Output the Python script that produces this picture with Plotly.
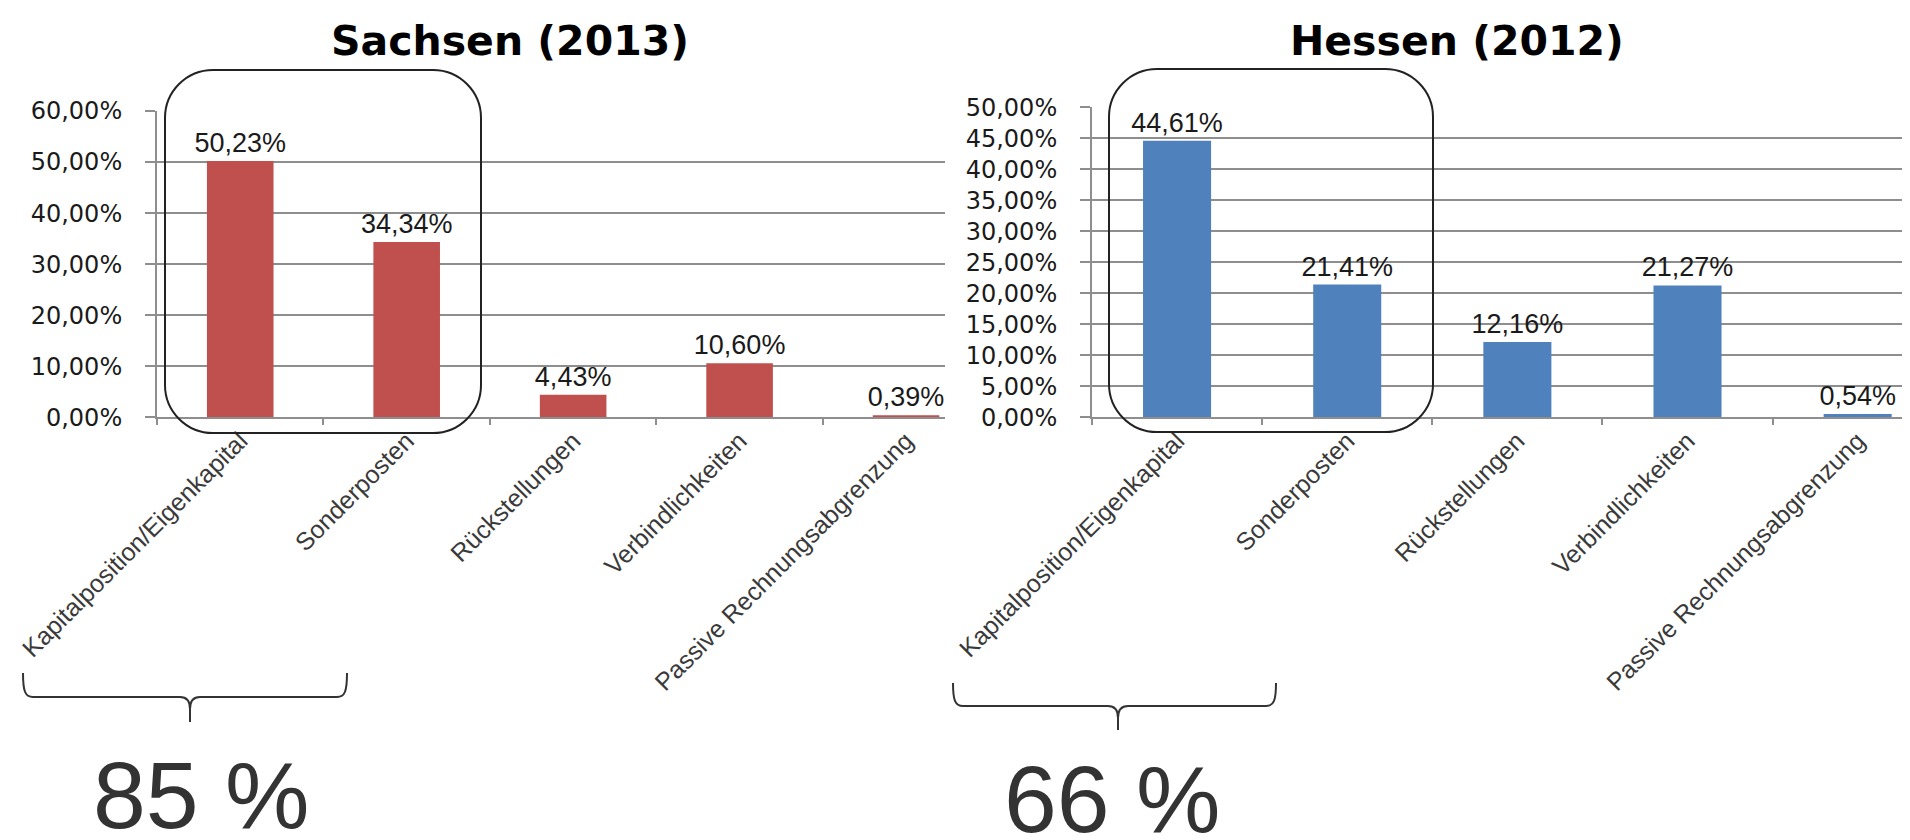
import plotly.graph_objects as go

# ---------------- data ----------------
categories = ["Kapitalposition/Eigenkapital", "Sonderposten", "Rückstellungen",
              "Verbindlichkeiten", "Passive Rechnungsabgrenzung"]
sachsen_values = [50.23, 34.34, 4.43, 10.60, 0.39]
hessen_values = [44.61, 21.41, 12.16, 21.27, 0.54]
titles = ["Sachsen (2013)", "Hessen (2012)"]
share_labels = ["85 %", "66 %"]

# ---------------- geometry helpers ----------------
# the page body has an 8px margin, so the figure is shifted by OFF px
OFF = 8
W, H = 1910 - OFF, 840 - OFF


def px(x):
    return (x - OFF) / W


def py(y):
    return 1 - (y - OFF) / H


def rounded_rect(x0, y0, x1, y1, r):
    k = 0.552 * r
    pts = [
        f"M {px(x0 + r)},{py(y0)}",
        f"L {px(x1 - r)},{py(y0)}",
        f"C {px(x1 - r + k)},{py(y0)} {px(x1)},{py(y0 + r - k)} {px(x1)},{py(y0 + r)}",
        f"L {px(x1)},{py(y1 - r)}",
        f"C {px(x1)},{py(y1 - r + k)} {px(x1 - r + k)},{py(y1)} {px(x1 - r)},{py(y1)}",
        f"L {px(x0 + r)},{py(y1)}",
        f"C {px(x0 + r - k)},{py(y1)} {px(x0)},{py(y1 - r + k)} {px(x0)},{py(y1 - r)}",
        f"L {px(x0)},{py(y0 + r)}",
        f"C {px(x0)},{py(y0 + r - k)} {px(x0 + r - k)},{py(y0)} {px(x0 + r)},{py(y0)}",
        "Z",
    ]
    return " ".join(pts)


def brace(x0, x1, ytop, yh, xm, ytip):
    p = [
        f"M {px(x0)},{py(ytop)}",
        f"C {px(x0)},{py(yh - 6)} {px(x0 + 2)},{py(yh)} {px(x0 + 10)},{py(yh)}",
        f"L {px(xm - 10)},{py(yh)}",
        f"C {px(xm - 4)},{py(yh)} {px(xm)},{py(yh + 3)} {px(xm)},{py(yh + 12)}",
        f"L {px(xm)},{py(ytip)}",
        f"M {px(xm)},{py(yh + 12)}",
        f"C {px(xm)},{py(yh + 3)} {px(xm + 4)},{py(yh)} {px(xm + 10)},{py(yh)}",
        f"L {px(x1 - 10)},{py(yh)}",
        f"C {px(x1 - 2)},{py(yh)} {px(x1)},{py(yh - 6)} {px(x1)},{py(ytop)}",
    ]
    return " ".join(p)


RED = "#C0504D"
BLUE = "#4F81BD"
GRID = "#8e8e8e"
LABEL_FONT = dict(family="Liberation Sans, Arial, sans-serif", size=27, color="#1a1a1a")

fig = go.Figure()
fig.add_trace(go.Bar(
    x=categories, y=sachsen_values, width=0.4, marker=dict(color=RED, line=dict(width=0)),
    texttemplate="%{y:.2f}%", textposition="outside", textfont=LABEL_FONT,
    constraintext="none", cliponaxis=False, xaxis="x", yaxis="y",
))
fig.add_trace(go.Bar(
    x=categories, y=hessen_values, width=0.4, marker=dict(color=BLUE, line=dict(width=0)),
    texttemplate="%{y:.2f}%", textposition="outside", textfont=LABEL_FONT,
    constraintext="none", cliponaxis=False, xaxis="x2", yaxis="y2",
))

xcommon = dict(
    type="category", showline=True, linecolor=GRID, linewidth=2,
    ticks="outside", ticklen=6, tickcolor=GRID, tickwidth=2, tickson="boundaries",
    tickangle=-45, showgrid=False, zeroline=False, automargin=False,
    tickfont=dict(family="Liberation Sans, Arial, sans-serif", size=25, color="#3a3a3a"),
    ticklabelstandoff=-3,
)
ycommon = dict(
    showline=True, linecolor=GRID, linewidth=2, ticks="outside", ticklen=10,
    tickcolor=GRID, tickwidth=2, showgrid=True, gridcolor=GRID, gridwidth=2,
    zeroline=False, tickformat=".2f", ticksuffix="%", automargin=False,
    tickfont=dict(family="DejaVu Sans, sans-serif", size=24, color="#1a1a1a"),
    ticklabelstandoff=18,
)

fig.update_layout(
    width=W, height=H, margin=dict(l=0, r=0, t=0, b=0, autoexpand=False),
    paper_bgcolor="white", plot_bgcolor="white", showlegend=False,
    separators=",.",
    xaxis=dict(xcommon, domain=[px(157), px(945)], range=[-0.5, 4.234], anchor="y"),
    yaxis=dict(ycommon, domain=[py(417.3), py(111)], range=[0, 60], dtick=10, anchor="x"),
    xaxis2=dict(xcommon, domain=[px(1092), px(1907)], range=[-0.5, 4.29], anchor="y2"),
    yaxis2=dict(ycommon, domain=[py(417.3), py(107.3)], range=[0, 50], dtick=5, anchor="x2"),
)

title_font = dict(family="DejaVu Sans, sans-serif", size=41, color="#000000")
fig.add_annotation(text=f"<b>{titles[0]}</b>", x=px(510), y=py(41), xref="paper", yref="paper",
                   showarrow=False, xanchor="center", yanchor="middle", font=title_font)
fig.add_annotation(text=f"<b>{titles[1]}</b>", x=px(1457), y=py(41), xref="paper", yref="paper",
                   showarrow=False, xanchor="center", yanchor="middle", font=title_font)

big_font = dict(family="Liberation Sans, Arial, sans-serif", size=95, color="#333333")
fig.add_annotation(text=share_labels[0], x=px(201), y=py(795), xref="paper", yref="paper",
                   showarrow=False, xanchor="center", yanchor="middle", font=big_font)
fig.add_annotation(text=share_labels[1], x=px(1112), y=py(799), xref="paper", yref="paper",
                   showarrow=False, xanchor="center", yanchor="middle", font=big_font)

fig.add_shape(type="path", xref="paper", yref="paper", path=rounded_rect(165, 70, 481, 433, 48),
              line=dict(color="#222222", width=2), fillcolor="rgba(0,0,0,0)", layer="above")
fig.add_shape(type="path", xref="paper", yref="paper", path=rounded_rect(1109, 69, 1433, 432, 48),
              line=dict(color="#222222", width=2), fillcolor="rgba(0,0,0,0)", layer="above")

fig.add_shape(type="path", xref="paper", yref="paper", path=brace(23, 347, 673, 697, 190, 722),
              line=dict(color="#333333", width=2), layer="above")
fig.add_shape(type="path", xref="paper", yref="paper", path=brace(953, 1276, 683, 706, 1118, 730),
              line=dict(color="#333333", width=2), layer="above")

fig.write_html("out.html")
